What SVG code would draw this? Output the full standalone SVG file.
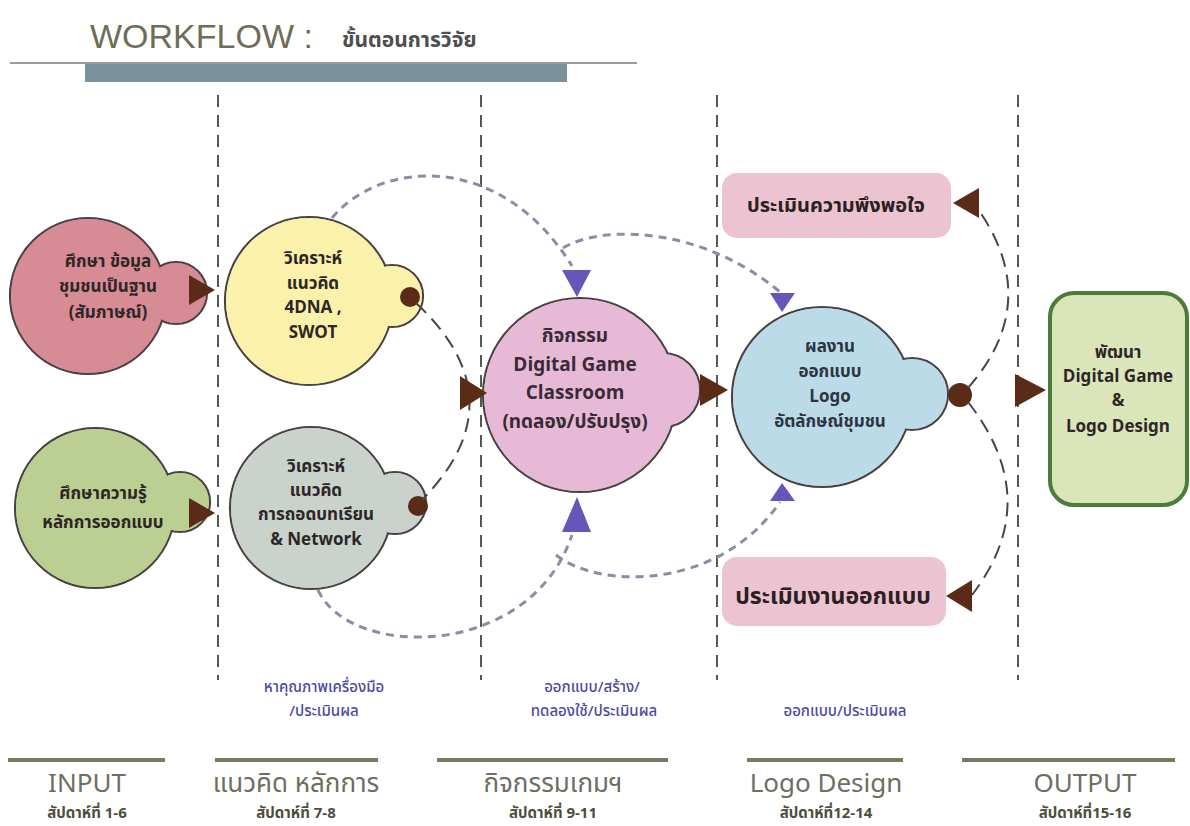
<svg xmlns="http://www.w3.org/2000/svg" width="1190" height="826" viewBox="0 0 1190 826">
<style>
.bg{fill:#ffffff}
.vline{stroke:#505a52;stroke-width:2;stroke-dasharray:12 8;fill:none}
.out{stroke:#4a4242;stroke-width:2.2}
.nt{font-family:"Noto Sans Thai","Noto Sans","DejaVu Sans",sans-serif;font-weight:bold;font-size:17px;fill:#2e2626;text-anchor:middle}
.nt5{font-family:"Noto Sans Thai","Noto Sans","DejaVu Sans",sans-serif;font-weight:bold;font-size:19px;fill:#3a2a36;text-anchor:middle}
.ntb{font-family:"Noto Sans Thai","Noto Sans","DejaVu Sans",sans-serif;font-weight:bold;font-size:17px;fill:#2c3440;text-anchor:middle}
.rt{font-family:"Noto Sans Thai","Noto Sans","DejaVu Sans",sans-serif;font-weight:bold;fill:#2a2020;text-anchor:middle}
.blue{font-family:"Noto Sans Thai","Noto Sans","DejaVu Sans",sans-serif;font-size:15px;font-weight:500;fill:#4b4ba0;text-anchor:middle}
.ttl{font-family:"Noto Sans Thai","Liberation Sans","Noto Sans",sans-serif;font-size:26px;fill:#6e6e62;text-anchor:middle}
.sub{font-family:"Noto Sans Thai","Noto Sans","DejaVu Sans",sans-serif;font-weight:bold;font-size:15px;fill:#4e4e3c;text-anchor:middle}
.bl{stroke:#7a7a62;stroke-width:4}
.brown{fill:#5a2c18}
.purp{fill:#6656b8}
.pdash{stroke:#8c8ca6;stroke-width:3;stroke-dasharray:8 6;fill:none}
.bdash{stroke:#4a4545;stroke-width:2;stroke-dasharray:14 8;fill:none}
</style>
<rect class="bg" x="0" y="0" width="1190" height="826"/>

<g id="title">
<text x="90" y="48" font-family="Liberation Sans, Arial, sans-serif" font-size="34" fill="#6e6e58">WORKFLOW :</text>
<text x="342" y="47" font-family="Noto Sans Thai, Noto Sans, DejaVu Sans, sans-serif" font-weight="bold" font-size="21" fill="#4e4e4e">ขั้นตอนการวิจัย</text>
<line x1="10" y1="63" x2="637" y2="63" stroke="#7a7a7a" stroke-width="1.5"/>
<rect x="85" y="64" width="482" height="18" fill="#7a929c"/>
</g>

<g id="columns">
<line class="vline" x1="218" y1="95" x2="218" y2="680"/>
<line class="vline" x1="481" y1="95" x2="481" y2="680"/>
<line class="vline" x1="717" y1="95" x2="717" y2="680"/>
<line class="vline" x1="1018" y1="95" x2="1018" y2="680"/>
</g>

<g id="node1">
<circle class="out" cx="88" cy="296" r="78" fill="#d68b95"/>
<circle class="out" cx="176" cy="293" r="31" fill="#d68b95"/>
<circle cx="88" cy="296" r="77" fill="#d68b95"/>
<circle cx="176" cy="293" r="30" fill="#d68b95"/>
<text class="nt" x="108" y="267">ศึกษา ข้อมูล</text>
<text class="nt" x="108" y="292">ชุมชนเป็นฐาน</text>
<text class="nt" x="108" y="318">(สัมภาษณ์)</text>
</g>

<g id="node2">
<circle class="out" cx="95" cy="508" r="80" fill="#bccf92"/>
<circle class="out" cx="180" cy="502" r="30" fill="#bccf92"/>
<circle cx="95" cy="508" r="79" fill="#bccf92"/>
<circle cx="180" cy="502" r="29" fill="#bccf92"/>
<text class="nt" x="103" y="499">ศึกษาความรู้</text>
<text class="nt" x="103" y="528">หลักการออกแบบ</text>
</g>

<g id="node3">
<circle class="out" cx="309" cy="301" r="84" fill="#fbf1aa"/>
<circle class="out" cx="392" cy="296" r="31" fill="#fbf1aa"/>
<circle cx="309" cy="301" r="83" fill="#fbf1aa"/>
<circle cx="392" cy="296" r="30" fill="#fbf1aa"/>
<text class="nt" x="313" y="264">วิเคราะห์</text>
<text class="nt" x="313" y="289">แนวคิด</text>
<text class="nt" x="313" y="313">4DNA ,</text>
<text class="nt" x="313" y="338">SWOT</text>
<circle class="brown" cx="410" cy="297" r="10"/>
</g>

<g id="node4">
<circle class="out" cx="311" cy="508" r="81" fill="#c9d3cc"/>
<circle class="out" cx="395" cy="503" r="31" fill="#c9d3cc"/>
<circle cx="311" cy="508" r="80" fill="#c9d3cc"/>
<circle cx="395" cy="503" r="30" fill="#c9d3cc"/>
<text class="nt" x="316" y="472">วิเคราะห์</text>
<text class="nt" x="316" y="496">แนวคิด</text>
<text class="nt" x="316" y="520">การถอดบทเรียน</text>
<text class="nt" x="316" y="545">&amp; Network</text>
<circle class="brown" cx="418" cy="506" r="10"/>
</g>

<g id="node5">
<circle class="out" cx="580" cy="395" r="97" fill="#e6bad6"/>
<circle class="out" cx="663" cy="390" r="37" fill="#e6bad6"/>
<circle cx="580" cy="395" r="96" fill="#e6bad6"/>
<circle cx="663" cy="390" r="36" fill="#e6bad6"/>
<text class="nt5" x="575" y="342">กิจกรรม</text>
<text class="nt5" x="575" y="371">Digital Game</text>
<text class="nt5" x="575" y="399">Classroom</text>
<text class="nt5" x="575" y="428">(ทดลอง/ปรับปรุง)</text>
</g>

<g id="node6">
<circle class="out" cx="822" cy="397" r="90" fill="#bcdbe8"/>
<circle class="out" cx="912" cy="394" r="36" fill="#bcdbe8"/>
<circle cx="822" cy="397" r="89" fill="#bcdbe8"/>
<circle cx="912" cy="394" r="35" fill="#bcdbe8"/>
<text class="ntb" x="830" y="352">ผลงาน</text>
<text class="ntb" x="830" y="377">ออกแบบ</text>
<text class="ntb" x="830" y="402">Logo</text>
<text class="ntb" x="830" y="427">อัตลักษณ์ชุมชน</text>
<circle class="brown" cx="960" cy="395" r="12"/>
</g>

<g id="node7">
<rect x="722" y="173" width="229" height="65" rx="15" fill="#ecc3d0"/>
<text class="rt" x="836" y="212" font-size="20">ประเมินความพึงพอใจ</text>
</g>

<g id="node8">
<rect x="722" y="557" width="224" height="69" rx="15" fill="#ecc3d0"/>
<text class="rt" x="833" y="604" font-size="23">ประเมินงานออกแบบ</text>
</g>

<g id="node9">
<rect x="1050" y="293" width="137" height="212" rx="24" fill="#dae6ba" stroke="#4e7a3a" stroke-width="4"/>
<text class="nt" x="1118" y="358" font-size="18">พัฒนา</text>
<text class="nt" x="1118" y="382" font-size="18">Digital Game</text>
<text class="nt" x="1118" y="406" font-size="18">&amp;</text>
<text class="nt" x="1118" y="432" font-size="18">Logo  Design</text>
</g>

<g id="connectors">
<path class="pdash" d="M332,218 C380,160 500,150 572,266"/>
<path class="pdash" d="M563,248 C600,225 700,225 780,292"/>
<path class="pdash" d="M318,590 C350,660 530,660 572,535"/>
<path class="pdash" d="M556,555 C600,590 720,590 780,502"/>
<path class="bdash" d="M416,303 Q520,400 422,500"/>
<path class="bdash" d="M968,388 Q1045,300 975,205"/>
<path class="bdash" d="M968,402 Q1045,500 972,595"/>
<polygon class="brown" points="189,275 215,290 189,305"/>
<polygon class="brown" points="189,498 215,513 189,528"/>
<polygon class="brown" points="460,376 487,393 460,410"/>
<polygon class="brown" points="700,374 728,390 700,406"/>
<polygon class="brown" points="1015,374 1046,390 1015,407"/>
<polygon class="brown" points="979,188 953,203 979,218"/>
<polygon class="brown" points="972,580 946,596 972,612"/>
<polygon class="purp" points="562,270 591,270 577,297"/>
<polygon class="purp" points="562,532 591,532 577,497"/>
<polygon class="purp" points="770,293 795,293 782,312"/>
<polygon class="purp" points="770,501 795,501 782,483"/>
</g>

<g id="labels">
<text class="blue" x="324" y="692">หาคุณภาพเครื่องมือ</text>
<text class="blue" x="324" y="716">/ประเมินผล</text>
<text class="blue" x="592" y="692">ออกแบบ/สร้าง/</text>
<text class="blue" x="594" y="716">ทดลองใช้/ประเมินผล</text>
<text class="blue" x="845" y="716">ออกแบบ/ประเมินผล</text>
</g>

<g id="footer">
<line class="bl" x1="8" y1="760" x2="165" y2="760"/>
<line class="bl" x1="215" y1="760" x2="378" y2="760"/>
<line class="bl" x1="437" y1="760" x2="668" y2="760"/>
<line class="bl" x1="747" y1="760" x2="903" y2="760"/>
<line class="bl" x1="962" y1="760" x2="1175" y2="760"/>
<text class="ttl" x="87" y="792">INPUT</text>
<text class="ttl" x="296" y="792">แนวคิด หลักการ</text>
<text class="ttl" x="553" y="792">กิจกรรมเกมฯ</text>
<text class="ttl" x="826" y="792" font-size="24">Logo Design</text>
<text class="ttl" x="1085" y="792">OUTPUT</text>
<text class="sub" x="87" y="818">สัปดาห์ที่ 1-6</text>
<text class="sub" x="296" y="818">สัปดาห์ที่ 7-8</text>
<text class="sub" x="553" y="818">สัปดาห์ที่ 9-11</text>
<text class="sub" x="826" y="818">สัปดาห์ที่12-14</text>
<text class="sub" x="1085" y="818">สัปดาห์ที่15-16</text>
</g>
</svg>
